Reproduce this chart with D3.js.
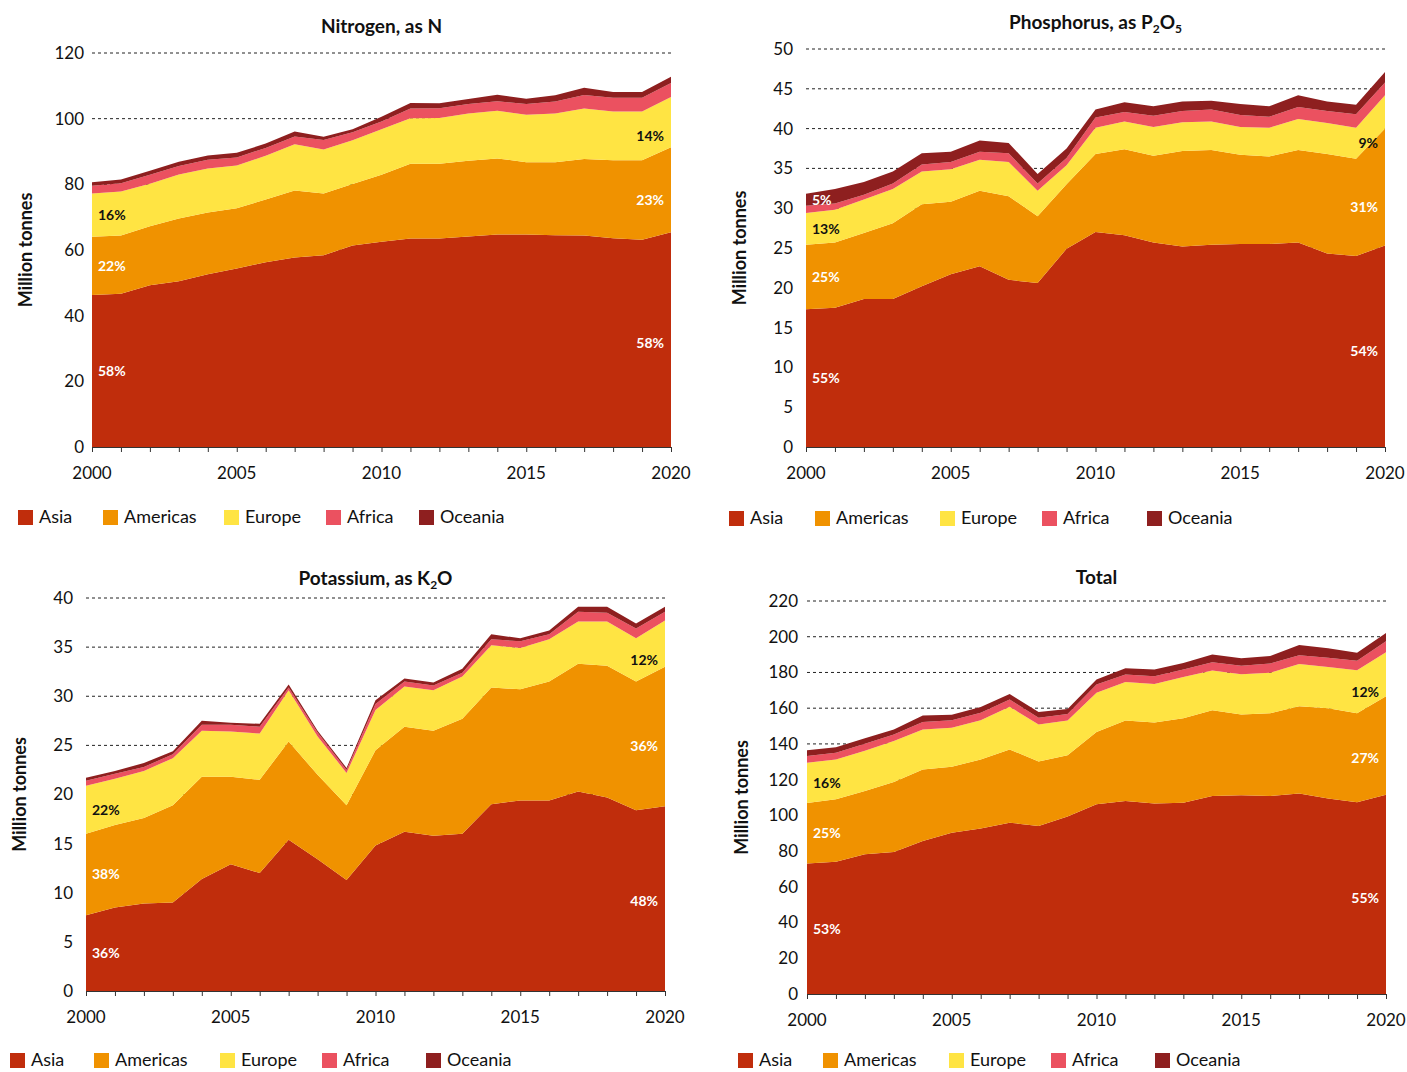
<!DOCTYPE html>
<html>
<head>
<meta charset="utf-8">
<script src="https://cdn.jsdelivr.net/npm/d3@7"></script>
<style>
  body { margin: 0; background: #fff; }
  svg text { font-family: Lato, "Open Sans", sans-serif; }
</style>
</head>
<body>
<div id="chart"></div>
<script>
// global const
const width = 1407, height = 1072;
const regions = ["Asia", "Americas", "Europe", "Africa", "Oceania"];
const colors = { Asia: "#c02d0c", Americas: "#f09200", Europe: "#ffe443", Africa: "#eb5160", Oceania: "#8e1f1f" };
const years = d3.range(2000, 2021);
const xTickLabels = [2000, 2005, 2010, 2015, 2020];

// million tonnes
const nitrogenAsia     = [46.3,46.7,49.3,50.5,52.6,54.4,56.3,57.7,58.4,61.4,62.5,63.5,63.5,64.1,64.7,64.7,64.5,64.4,63.6,63.1,65.4];
const nitrogenAmericas = [17.7,17.7,17.9,19.1,18.8,18.3,19.1,20.4,18.8,18.7,20.4,22.8,22.8,23.1,23.2,22.0,22.2,23.3,23.7,24.2,25.9];
const nitrogenEurope   = [13.2,13.4,13.0,13.4,13.4,13.0,13.3,14.1,13.4,13.3,13.9,13.8,13.9,14.4,14.5,14.5,14.9,15.4,14.9,14.9,15.3];
const nitrogenAfrica   = [2.4,2.5,2.7,2.6,2.7,2.5,2.4,2.4,2.9,2.5,2.3,3.0,3.0,2.9,2.9,3.3,3.6,4.1,4.2,4.2,4.3];
const nitrogenOceania  = [1.0,1.2,1.2,1.3,1.3,1.4,1.3,1.5,1.0,0.9,1.5,1.7,1.5,1.5,2.0,1.6,1.9,2.2,1.7,1.7,1.9];

const phosphorusAsia     = [17.3,17.5,18.6,18.6,20.2,21.7,22.7,21.0,20.6,24.9,27.0,26.6,25.7,25.2,25.4,25.5,25.5,25.7,24.3,24.0,25.3];
const phosphorusAmericas = [8.1,8.2,8.3,9.5,10.3,9.1,9.5,10.5,8.4,8.1,9.8,10.8,10.9,12.0,11.9,11.2,11.0,11.6,12.5,12.2,14.7];
const phosphorusEurope   = [4.0,4.1,4.2,4.3,4.1,4.1,3.9,4.3,3.2,2.4,3.3,3.5,3.6,3.6,3.6,3.5,3.6,3.9,3.9,3.9,4.2];
const phosphorusAfrica   = [0.9,0.8,0.6,0.7,0.9,0.9,1.0,1.1,0.9,0.9,1.3,1.2,1.4,1.4,1.5,1.5,1.4,1.5,1.5,1.7,1.6];
const phosphorusOceania  = [1.5,1.8,1.6,1.5,1.4,1.3,1.4,1.3,1.2,1.2,1.0,1.2,1.2,1.2,1.1,1.4,1.3,1.5,1.2,1.2,1.3];

const potassiumAsia     = [7.7,8.5,8.9,9.0,11.4,12.9,12.0,15.4,13.4,11.3,14.8,16.2,15.8,16.0,19.0,19.4,19.4,20.3,19.7,18.4,18.8];
const potassiumAmericas = [8.3,8.4,8.7,9.9,10.4,8.9,9.5,10.0,8.6,7.6,9.7,10.7,10.7,11.7,11.9,11.3,12.1,13.0,13.4,13.1,14.2];
const potassiumEurope   = [4.9,4.7,4.8,4.8,4.7,4.6,4.7,5.2,3.9,3.3,4.1,4.1,4.1,4.3,4.3,4.2,4.3,4.3,4.5,4.4,4.7];
const potassiumAfrica   = [0.5,0.5,0.4,0.4,0.6,0.7,0.7,0.3,0.4,0.3,0.6,0.5,0.5,0.4,0.6,0.7,0.5,1.0,0.9,1.0,0.9];
const potassiumOceania  = [0.3,0.3,0.4,0.3,0.4,0.2,0.3,0.3,0.2,0.2,0.4,0.3,0.3,0.4,0.5,0.3,0.4,0.5,0.6,0.5,0.5];

const totalAsia     = [73.0,74.0,78.2,79.5,85.7,90.3,92.6,95.9,94.1,99.3,106.2,108.0,106.7,107.1,110.8,111.2,110.8,112.3,109.5,107.3,111.6];
const totalAmericas = [33.9,35.0,35.4,39.2,40.0,36.9,38.7,41.0,36.1,34.3,40.4,45.1,45.3,47.3,48.1,45.3,46.4,48.8,50.5,49.9,55.1];
const totalEurope   = [22.6,22.3,22.6,22.9,22.4,21.8,22.0,23.9,20.7,19.5,22.0,21.5,21.6,23.1,22.2,22.5,22.7,23.7,23.1,24.1,24.6];
const totalAfrica   = [3.7,3.7,3.9,3.7,4.1,4.3,4.1,4.1,3.7,3.7,4.6,4.2,4.3,4.1,4.6,4.8,5.1,4.8,5.1,5.2,6.2];
const totalOceania  = [3.2,3.2,3.0,2.8,3.7,3.0,3.2,3.1,3.2,2.8,2.8,3.5,3.7,3.7,4.3,4.1,4.2,5.8,5.4,4.6,4.6];

// share labels shown at the start (2000) and near the end of each chart
const nitrogenShares   = { start: { Asia: "58%", Americas: "22%", Europe: "16%" }, end: { Asia: "58%", Americas: "23%", Europe: "14%" } };
const phosphorusShares = { start: { Asia: "55%", Americas: "25%", Europe: "13%", Oceania: "5%" }, end: { Asia: "54%", Americas: "31%", Europe: "9%" } };
const potassiumShares  = { start: { Asia: "36%", Americas: "38%", Europe: "22%" }, end: { Asia: "48%", Americas: "36%", Europe: "12%" } };
const totalShares      = { start: { Asia: "53%", Americas: "25%", Europe: "16%" }, end: { Asia: "55%", Americas: "27%", Europe: "12%" } };

const nitrogenTicks   = [0, 20, 40, 60, 80, 100, 120];
const phosphorusTicks = [0, 5, 10, 15, 20, 25, 30, 35, 40, 45, 50];
const potassiumTicks  = [0, 5, 10, 15, 20, 25, 30, 35, 40];
const totalTicks      = [0, 20, 40, 60, 80, 100, 120, 140, 160, 180, 200, 220];

const toRows = (series) => years.map((y, i) => {
    const row = { year: y };
    regions.forEach((r, k) => row[r] = series[k][i]);
    return row;
});

const panels = [
    { title: ["Nitrogen, as N"], series: [nitrogenAsia, nitrogenAmericas, nitrogenEurope, nitrogenAfrica, nitrogenOceania],
      ticks: nitrogenTicks, shares: nitrogenShares,
      x: [92, 671], y: [447, 53], titleY: 26, tickX: 84, axisLabelX: 26, legendX: [18, 103, 224, 326, 419], legendY: 510 },
    { title: ["Phosphorus, as P", "2", "O", "5"], series: [phosphorusAsia, phosphorusAmericas, phosphorusEurope, phosphorusAfrica, phosphorusOceania],
      ticks: phosphorusTicks, shares: phosphorusShares,
      x: [806, 1385], y: [447, 49], titleY: 22, tickX: 793, axisLabelX: 740, legendX: [729, 815, 940, 1042, 1147], legendY: 511 },
    { title: ["Potassium, as K", "2", "O"], series: [potassiumAsia, potassiumAmericas, potassiumEurope, potassiumAfrica, potassiumOceania],
      ticks: potassiumTicks, shares: potassiumShares,
      x: [86, 665], y: [991, 598], titleY: 578, tickX: 73, axisLabelX: 20, legendX: [10, 94, 220, 322, 426], legendY: 1053 },
    { title: ["Total"], series: [totalAsia, totalAmericas, totalEurope, totalAfrica, totalOceania],
      ticks: totalTicks, shares: totalShares,
      x: [807, 1386], y: [994, 601], titleY: 577, tickX: 798, axisLabelX: 742, legendX: [738, 823, 949, 1051, 1155], legendY: 1053 }
];

var svg = d3.select("#chart")
    .append("svg")
    .attr("width", width)
    .attr("height", height);

function drawPanel(p) {
    const data = toRows(p.series);
    const stacked = d3.stack().keys(regions)(data);

    const xScale = d3.scaleLinear().domain([2000, 2020]).range(p.x);
    const yScale = d3.scaleLinear().domain([0, d3.max(p.ticks)]).range(p.y);

    const g = svg.append("g");

    // dashed grid lines (behind the areas)
    g.selectAll(".grid")
        .data(p.ticks.filter(t => t > 0))
        .join("line")
        .attr("x1", p.x[0])
        .attr("x2", p.x[1])
        .attr("y1", d => yScale(d))
        .attr("y2", d => yScale(d))
        .attr("stroke", "#222")
        .attr("stroke-width", 1)
        .attr("stroke-dasharray", "3,3");

    const area = d3.area()
        .x(d => xScale(d.data.year))
        .y0(d => yScale(d[0]))
        .y1(d => yScale(d[1]));

    g.selectAll(".layer")
        .data(stacked)
        .join("path")
        .attr("d", area)
        .attr("fill", d => colors[d.key]);

    // y axis labels
    g.selectAll(".ytick")
        .data(p.ticks)
        .join("text")
        .attr("x", p.tickX)
        .attr("y", d => yScale(d))
        .attr("dy", "0.35em")
        .attr("text-anchor", "end")
        .attr("font-size", 17)
        .attr("fill", "#111")
        .text(d => d);

    // x axis: baseline + yearly ticks
    const xAxis = d3.axisBottom(xScale)
        .tickValues(years)
        .tickSize(5)
        .tickSizeOuter(0)
        .tickFormat("");
    const ax = g.append("g")
        .attr("transform", `translate(0,${yScale(0)})`)
        .call(xAxis);
    ax.select(".domain").attr("stroke", "#333");
    ax.selectAll(".tick line").attr("stroke", "#333");

    g.selectAll(".xlabel")
        .data(xTickLabels)
        .join("text")
        .attr("x", d => xScale(d))
        .attr("y", yScale(0) + 32)
        .attr("text-anchor", "middle")
        .attr("font-size", 17)
        .attr("fill", "#111")
        .text(d => d);

    // title with optional subscripts
    const title = g.append("text")
        .attr("x", (p.x[0] + p.x[1]) / 2)
        .attr("y", p.titleY)
        .attr("dy", "0.35em")
        .attr("text-anchor", "middle")
        .attr("font-size", 19)
        .attr("font-weight", "bold")
        .attr("fill", "#111");
    p.title.forEach((part, i) => {
        const t = title.append("tspan").text(part);
        if (i % 2 == 1) t.attr("font-size", 12).attr("dy", "4");
        else if (i > 0) t.attr("dy", "-4");
    });

    // y axis title
    g.append("text")
        .attr("transform", `translate(${p.axisLabelX},${(p.y[0] + p.y[1]) / 2}) rotate(-90)`)
        .attr("dy", "0.35em")
        .attr("text-anchor", "middle")
        .attr("font-size", 18)
        .attr("font-weight", "bold")
        .attr("fill", "#111")
        .text("Million tonnes");

    // share labels: middle of each band at 2000 (left) and 2019 (right)
    const bandMid = (key, year) => {
        const layer = stacked.find(s => s.key == key);
        const pt = layer[year - 2000];
        return yScale((pt[0] + pt[1]) / 2);
    };
    const labelColor = key => key == "Europe" ? "#111" : "#fff";

    Object.entries(p.shares.start).forEach(([key, txt]) => {
        g.append("text")
            .attr("x", p.x[0] + 6)
            .attr("y", bandMid(key, 2000))
            .attr("dy", "0.35em")
            .attr("font-size", 14)
            .attr("font-weight", "bold")
            .attr("fill", labelColor(key))
            .text(txt);
    });
    Object.entries(p.shares.end).forEach(([key, txt]) => {
        g.append("text")
            .attr("x", p.x[1] - 7)
            .attr("y", bandMid(key, 2019))
            .attr("dy", "0.35em")
            .attr("text-anchor", "end")
            .attr("font-size", 14)
            .attr("font-weight", "bold")
            .attr("fill", labelColor(key))
            .text(txt);
    });

    // legend
    const leg = g.selectAll(".legend")
        .data(regions)
        .join("g")
        .attr("transform", (d, i) => `translate(${p.legendX[i]},${p.legendY})`);
    leg.append("rect")
        .attr("width", 15)
        .attr("height", 15)
        .attr("fill", d => colors[d]);
    leg.append("text")
        .attr("x", 21)
        .attr("y", 7)
        .attr("dy", "0.35em")
        .attr("font-size", 18)
        .attr("fill", "#111")
        .text(d => d);
}

panels.forEach(drawPanel);
</script>
</body>
</html>
